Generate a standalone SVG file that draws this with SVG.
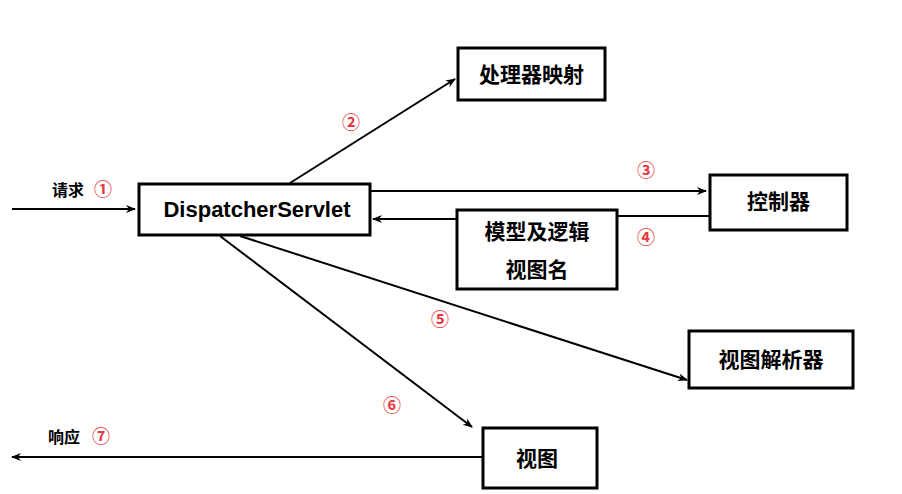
<svg xmlns="http://www.w3.org/2000/svg" width="902" height="494" viewBox="0 0 902 494">
<style>
.box{fill:#fff;stroke:#000;stroke-width:3}
.t{font-family:"Liberation Sans","Noto Sans CJK SC",sans-serif;font-weight:bold;font-size:21px;fill:#000;text-anchor:middle}
.d{font-family:"Liberation Sans",sans-serif;font-weight:bold;font-size:22px;fill:#000;text-anchor:middle}
.s{font-family:"Noto Sans CJK SC",sans-serif;font-weight:bold;font-size:16px;fill:#000;text-anchor:middle}
.n{font-family:"Noto Sans CJK SC","DejaVu Sans",sans-serif;font-weight:bold;font-size:18px;fill:#e8383d;text-anchor:middle}
.c{stroke:#000;stroke-width:2;fill:none}
</style>
<defs>
<marker id="a" markerWidth="10" markerHeight="10" refX="9" refY="5" orient="auto" markerUnits="userSpaceOnUse">
<path d="M0,1 L10,5 L0,9 L3,5 Z" fill="#000"/>
</marker>
</defs>
<rect width="902" height="494" fill="#fff"/>
<g id="connectors">
<line class="c" x1="12" y1="209" x2="135" y2="209" marker-end="url(#a)"/>
<line class="c" x1="290" y1="183" x2="455" y2="79" marker-end="url(#a)"/>
<line class="c" x1="370" y1="191" x2="706" y2="191" marker-end="url(#a)"/>
<line class="c" x1="710" y1="216" x2="617" y2="216"/>
<line class="c" x1="457" y1="219" x2="373" y2="219" marker-end="url(#a)"/>
<line class="c" x1="240" y1="236" x2="687" y2="380" marker-end="url(#a)"/>
<line class="c" x1="220" y1="236" x2="472" y2="427" marker-end="url(#a)"/>
<line class="c" x1="483" y1="457" x2="12" y2="457" marker-end="url(#a)"/>
<text class="s" x="68" y="196">请求</text>
<text class="n" x="103" y="196">①</text>
<text class="n" x="351" y="129">②</text>
<text class="n" x="646" y="177">③</text>
<text class="n" x="646" y="244">④</text>
<text class="n" x="440" y="326">⑤</text>
<text class="n" x="392" y="412">⑥</text>
<text class="s" x="64" y="443">响应</text>
<text class="n" x="101" y="443">⑦</text>
</g>
<g id="dispatcher">
<rect class="box" x="139" y="184" width="231" height="51"/>
<text class="d" x="257" y="217">DispatcherServlet</text>
</g>
<g id="handlerMapping">
<rect class="box" x="458" y="48" width="147" height="52"/>
<text class="t" x="531.5" y="82">处理器映射</text>
</g>
<g id="controller">
<rect class="box" x="710" y="175" width="137" height="55"/>
<text class="t" x="778.5" y="209">控制器</text>
</g>
<g id="modelView">
<rect class="box" x="457" y="210" width="160" height="79"/>
<text class="t" x="537" y="239">模型及逻辑</text>
<text class="t" x="537" y="277">视图名</text>
</g>
<g id="viewResolver">
<rect class="box" x="689" y="331" width="164" height="57"/>
<text class="t" x="771" y="367">视图解析器</text>
</g>
<g id="view">
<rect class="box" x="483" y="428" width="114" height="60"/>
<text class="t" x="537" y="466">视图</text>
</g>
</svg>
